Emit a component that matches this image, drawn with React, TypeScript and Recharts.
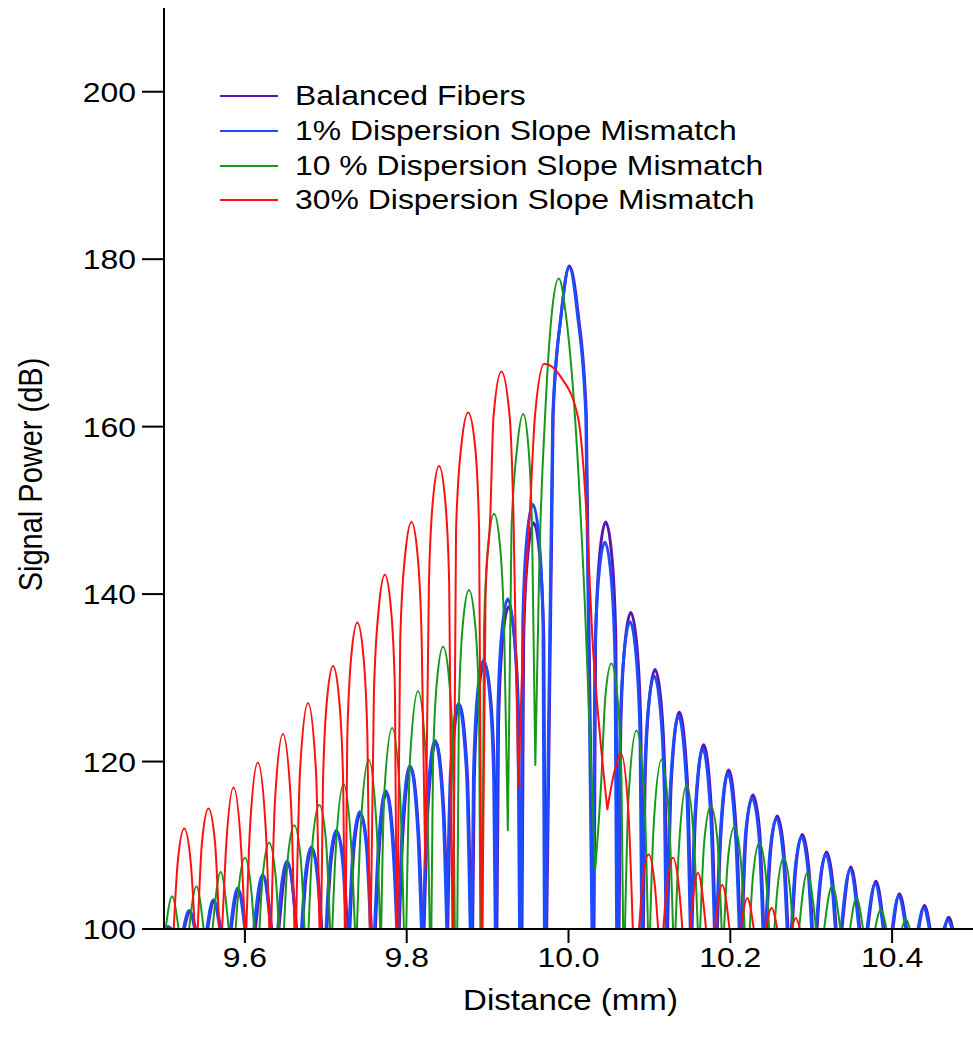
import { Label, Legend, Line, LineChart, XAxis, YAxis } from "recharts";

const FONT = '"Liberation Sans", Arial, Helvetica, sans-serif';
const STRETCH = 1.14; // text in this figure is set slightly wide
const A = 100; // a lobe foot sitting on the bottom of the dB axis

const xTicks = [9.6, 9.8, 10.0, 10.2, 10.4];
const yTicks = [100, 120, 140, 160, 180, 200];

// Each lobe is a short run of [distance mm, power dB] points: left foot, flank, top, flank, right foot.
// Feet above 100 dB are the shallow dips where two neighbouring lobes join.
const balancedLobes = [
  [[9.503, A], [9.506, 100.2], [9.509, A]],
  [[9.525, A], [9.532, 102.0], [9.539, A]],
  [[9.554, A], [9.562, 103.3], [9.570, A]],
  [[9.583, A], [9.592, 104.7], [9.601, A]],
  [[9.613, A], [9.623, 106.3], [9.633, A]],
  [[9.642, A], [9.653, 107.9], [9.664, A]],
  [[9.671, A], [9.675, 105.6], [9.683, 109.6], [9.691, 105.6], [9.695, A]],
  [[9.7013, A], [9.706, 107.6], [9.714, 111.6], [9.722, 107.6], [9.7267, A]],
  [[9.7297, A], [9.735, 109.8], [9.743, 113.8], [9.751, 109.8], [9.7563, A]],
  [[9.7613, A], [9.7652, 108.3], [9.775, 116.3], [9.7848, 108.3], [9.7887, A]],
  [[9.7908, A], [9.7952, 111.3], [9.805, 119.3], [9.8148, 111.3], [9.8192, A]],
  [[9.8215, A], [9.8262, 114.3], [9.836, 122.3], [9.8458, 114.3], [9.8505, A]],
  [[9.8507, A], [9.8552, 118.8], [9.865, 126.8], [9.8748, 118.8], [9.8795, A]],
  [[9.8815, A], [9.8835, 117.8], [9.8885, 127.8], [9.896, 131.8], [9.9035, 127.8], [9.9085, 117.8], [9.9105, A]],
  [[9.9115, A], [9.9135, 124.5], [9.9185, 134.5], [9.926, 138.5], [9.9335, 134.5], [9.9385, 124.5], [9.9405, A]],
  [[9.9425, A], [9.9445, 134.5], [9.9495, 144.5], [9.957, 148.5], [9.9645, 144.5], [9.9695, 134.5], [9.9712, A]],
  [[9.973, A], [9.981, 161.4], [9.991, 173.4], [10.001, 179.2], [10.012, 173.4], [10.022, 161.4], [10.030, A]],
  [[10.0315, A], [10.0335, 134.6], [10.0385, 144.6], [10.046, 148.6], [10.0535, 144.6], [10.0585, 134.6], [10.0605, A]],
  [[10.0625, A], [10.0645, 123.8], [10.0695, 133.8], [10.077, 137.8], [10.0845, 133.8], [10.0895, 123.8], [10.0915, A]],
  [[10.0925, A], [10.0945, 117.0], [10.0995, 127.0], [10.107, 131.0], [10.1145, 127.0], [10.1195, 117.0], [10.1215, A]],
  [[10.1225, A], [10.1272, 117.9], [10.137, 125.9], [10.1468, 117.9], [10.1515, A]],
  [[10.1527, A], [10.1572, 114.0], [10.167, 122.0], [10.1768, 114.0], [10.1813, A]],
  [[10.184, A], [10.1882, 111.0], [10.198, 119.0], [10.2078, 111.0], [10.212, A]],
  [[10.2147, A], [10.220, 112.0], [10.228, 116.0], [10.236, 112.0], [10.2413, A]],
  [[10.2448, A], [10.250, 109.5], [10.258, 113.5], [10.266, 109.5], [10.2712, A]],
  [[10.2765, A], [10.281, 107.3], [10.289, 111.3], [10.297, 107.3], [10.3015, A]],
  [[10.3072, A], [10.311, 105.2], [10.319, 109.2], [10.327, 105.2], [10.3308, A]],
  [[10.338, A], [10.349, 107.4], [10.360, A]],
  [[10.370, A], [10.380, 105.7], [10.390, A]],
  [[10.401, A], [10.409, 104.2], [10.418, A]],
  [[10.433, A], [10.440, 102.8], [10.447, A]],
  [[10.465, A], [10.470, 101.4], [10.475, A]],
];

const slope1Lobes = [
  [[9.502, A], [9.505, 100.3], [9.508, A]],
  [[9.524, A], [9.531, 102.2], [9.538, A]],
  [[9.553, A], [9.561, 103.5], [9.569, A]],
  [[9.582, A], [9.591, 104.9], [9.600, A]],
  [[9.611, A], [9.622, 106.5], [9.632, A]],
  [[9.6407, A], [9.644, 104.1], [9.652, 108.1], [9.660, 104.1], [9.6633, A]],
  [[9.670, A], [9.674, 105.8], [9.682, 109.8], [9.690, 105.8], [9.694, A]],
  [[9.7003, A], [9.705, 107.8], [9.713, 111.8], [9.721, 107.8], [9.7257, A]],
  [[9.7287, A], [9.734, 110.0], [9.742, 114.0], [9.750, 110.0], [9.7553, A]],
  [[9.7603, A], [9.7642, 108.5], [9.774, 116.5], [9.7838, 108.5], [9.7877, A]],
  [[9.7898, A], [9.7942, 111.5], [9.804, 119.5], [9.8138, 111.5], [9.8182, A]],
  [[9.8205, A], [9.8252, 114.5], [9.835, 122.5], [9.8448, 114.5], [9.8495, A]],
  [[9.8497, A], [9.8542, 118.9], [9.864, 126.9], [9.8738, 118.9], [9.8785, A]],
  [[9.8805, A], [9.8825, 118.1], [9.8875, 128.1], [9.895, 132.1], [9.9025, 128.1], [9.9075, 118.1], [9.9095, A]],
  [[9.9105, A], [9.9125, 125.4], [9.9175, 135.4], [9.925, 139.4], [9.9325, 135.4], [9.9375, 125.4], [9.9395, A]],
  [[9.9415, A], [9.9435, 136.7], [9.9485, 146.7], [9.956, 150.7], [9.9635, 146.7], [9.9685, 136.7], [9.9702, A]],
  [[9.972, A], [9.9805, 161.2], [9.9907, 173.2], [10.001, 179.0], [10.0113, 173.2], [10.0215, 161.2], [10.029, A]],
  [[10.0305, A], [10.0325, 132.2], [10.0375, 142.2], [10.045, 146.2], [10.0525, 142.2], [10.0575, 132.2], [10.0595, A]],
  [[10.0615, A], [10.0635, 122.7], [10.0685, 132.7], [10.076, 136.7], [10.0835, 132.7], [10.0885, 122.7], [10.0905, A]],
  [[10.0915, A], [10.0935, 116.2], [10.0985, 126.2], [10.106, 130.2], [10.1135, 126.2], [10.1185, 116.2], [10.1205, A]],
  [[10.1215, A], [10.1262, 117.4], [10.136, 125.4], [10.1458, 117.4], [10.1505, A]],
  [[10.1517, A], [10.1562, 113.5], [10.166, 121.5], [10.1758, 113.5], [10.1803, A]],
  [[10.183, A], [10.1872, 110.6], [10.197, 118.6], [10.2068, 110.6], [10.211, A]],
  [[10.2137, A], [10.219, 111.6], [10.227, 115.6], [10.235, 111.6], [10.2403, A]],
  [[10.2438, A], [10.249, 109.2], [10.257, 113.2], [10.265, 109.2], [10.2702, A]],
  [[10.2755, A], [10.280, 107.0], [10.288, 111.0], [10.296, 107.0], [10.3005, A]],
  [[10.3062, A], [10.310, 104.9], [10.318, 108.9], [10.326, 104.9], [10.3298, A]],
  [[10.337, A], [10.348, 107.1], [10.359, A]],
  [[10.369, A], [10.379, 105.4], [10.389, A]],
  [[10.400, A], [10.408, 103.9], [10.417, A]],
  [[10.432, A], [10.439, 102.5], [10.446, A]],
  [[10.464, A], [10.469, 101.1], [10.474, A]],
];

const slope10Lobes = [
  [[9.502, A], [9.510, 103.9], [9.518, A]],
  [[9.531, A], [9.540, 105.1], [9.549, A]],
  [[9.560, A], [9.570, 106.8], [9.580, A]],
  [[9.5885, A], [9.592, 104.5], [9.600, 108.5], [9.608, 104.5], [9.6115, A]],
  [[9.618, A], [9.622, 106.3], [9.630, 110.3], [9.638, 106.3], [9.642, A]],
  [[9.6483, A], [9.653, 108.4], [9.661, 112.4], [9.669, 108.4], [9.6737, A]],
  [[9.6787, A], [9.684, 110.8], [9.692, 114.8], [9.700, 110.8], [9.7053, A]],
  [[9.708, A], [9.7122, 109.3], [9.722, 117.3], [9.7318, 109.3], [9.736, A]],
  [[9.7385, A], [9.7432, 112.2], [9.753, 120.2], [9.7628, 112.2], [9.7672, A]],
  [[9.7685, A], [9.7722, 116.0], [9.782, 124.0], [9.7918, 116.0], [9.7965, A]],
  [[9.7995, A], [9.8042, 120.4], [9.814, 128.4], [9.8238, 120.4], [9.8285, A]],
  [[9.8305, A], [9.8325, 119.7], [9.8375, 129.7], [9.845, 133.7], [9.8525, 129.7], [9.8575, 119.7], [9.8595, A]],
  [[9.8625, A], [9.8645, 126.5], [9.8695, 136.5], [9.877, 140.5], [9.8845, 136.5], [9.8895, 126.5], [9.891, A]],
  [[9.8935, A], [9.8955, 135.6], [9.9005, 145.6], [9.908, 149.6], [9.9155, 145.6], [9.9205, 135.6], [9.925, 111.8]],
  [[9.925, 111.8], [9.9295, 147.5], [9.9365, 157.5], [9.944, 161.5], [9.9505, 157.5], [9.955, 147.5], [9.959, 119.6]],
  [[9.959, 119.6], [9.964, 144.1], [9.971, 161.2], [9.979, 173.2], [9.988, 177.7], [9.997, 173.2], [10.008, 161.2], [10.020, 139.3], [10.033, 107.1]],
  [[10.033, 107.1], [10.0405, 117.7], [10.0455, 127.7], [10.053, 131.7], [10.0605, 127.7], [10.0655, 117.7], [10.0675, A]],
  [[10.0698, A], [10.0742, 115.7], [10.084, 123.7], [10.0938, 115.7], [10.0982, A]],
  [[10.1008, A], [10.1052, 112.2], [10.115, 120.2], [10.1248, 112.2], [10.1292, A]],
  [[10.1322, A], [10.1362, 109.2], [10.146, 117.2], [10.1558, 109.2], [10.1598, A]],
  [[10.1627, A], [10.168, 110.7], [10.176, 114.7], [10.184, 110.7], [10.1893, A]],
  [[10.1923, A], [10.197, 108.2], [10.205, 112.2], [10.213, 108.2], [10.2177, A]],
  [[10.224, A], [10.228, 106.3], [10.236, 110.3], [10.244, 106.3], [10.248, A]],
  [[10.2545, A], [10.258, 104.5], [10.266, 108.5], [10.274, 104.5], [10.2775, A]],
  [[10.285, A], [10.295, 106.7], [10.306, A]],
  [[10.316, A], [10.326, 105.2], [10.336, A]],
  [[10.348, A], [10.356, 103.7], [10.364, A]],
  [[10.379, A], [10.386, 102.3], [10.393, A]],
  [[10.412, A], [10.417, 101.2], [10.422, A]],
];

// the broad 30% lobe sags on its right flank before the dip at 10.048 mm
const slope30Lobes = [
  [[9.512, A], [9.517, 108.0], [9.525, 112.0], [9.533, 108.0], [9.538, A]],
  [[9.5417, A], [9.547, 110.4], [9.555, 114.4], [9.563, 110.4], [9.5683, A]],
  [[9.5718, A], [9.5762, 108.9], [9.586, 116.9], [9.5958, 108.9], [9.6002, A]],
  [[9.6018, A], [9.6062, 111.9], [9.616, 119.9], [9.6258, 111.9], [9.6302, A]],
  [[9.6325, A], [9.6372, 115.3], [9.647, 123.3], [9.6568, 115.3], [9.6612, A]],
  [[9.6632, A], [9.6682, 119.0], [9.678, 127.0], [9.6878, 119.0], [9.6922, A]],
  [[9.6942, A], [9.6965, 117.4], [9.7015, 127.4], [9.709, 131.4], [9.7165, 127.4], [9.7215, 117.4], [9.7235, A]],
  [[9.7245, A], [9.7265, 122.6], [9.7315, 132.6], [9.739, 136.6], [9.7465, 132.6], [9.7515, 122.6], [9.7543, A]],
  [[9.7555, A], [9.7595, 128.3], [9.7655, 138.3], [9.773, 142.3], [9.7805, 138.3], [9.7855, 128.3], [9.7875, A]],
  [[9.7885, A], [9.792, 134.6], [9.798, 144.6], [9.806, 148.6], [9.8135, 144.6], [9.8185, 134.6], [9.823, 107.3]],
  [[9.823, 107.3], [9.8275, 141.3], [9.8325, 151.3], [9.840, 155.3], [9.8475, 151.3], [9.8525, 141.3], [9.8565, A]],
  [[9.8575, A], [9.861, 147.7], [9.8675, 157.7], [9.876, 161.7], [9.8845, 157.7], [9.8895, 147.7], [9.8925, A]],
  [[9.8935, A], [9.8975, 140.0], [9.9033, 149.3], [9.9073, 161.2], [9.917, 166.6], [9.9273, 161.2], [9.932, 149.3], [9.938, 117.0]],
  [[9.938, 117.0], [9.945, 138.0], [9.952, 149.3], [9.9585, 161.2], [9.970, 167.5], [9.990, 166.0], [10.012, 161.0], [10.022, 150.0], [10.030, 134.0], [10.039, 123.0], [10.048, 114.3]],
  [[10.048, 114.3], [10.057, 118.9], [10.065, 120.9], [10.074, 114.0], [10.0795, A]],
  [[10.0872, A], [10.091, 104.9], [10.099, 108.9], [10.107, 104.9], [10.1108, A]],
  [[10.1172, A], [10.121, 104.5], [10.129, 108.5], [10.137, 104.5], [10.1408, A]],
  [[10.150, A], [10.160, 106.7], [10.170, A]],
  [[10.181, A], [10.190, 105.3], [10.199, A]],
  [[10.213, A], [10.221, 103.7], [10.229, A]],
  [[10.244, A], [10.251, 102.5], [10.258, A]],
  [[10.276, A], [10.281, 101.3], [10.286, A]],
];

// lobes become separate runs of one line: a null value breaks the path between them
function trace(lobes: number[][][]) {
  const pts: { x: number; y: number | null }[] = [];
  lobes.forEach((lobe) => {
    lobe.forEach(([x, y]) => pts.push({ x, y }));
    pts.push({ x: lobe[lobe.length - 1][0], y: null });
  });
  return pts;
}

const series = [
  { name: "Balanced Fibers", color: "#5b14b4", width: 3, data: trace(balancedLobes) },
  { name: "1% Dispersion Slope Mismatch", color: "#1d4cff", width: 3, data: trace(slope1Lobes) },
  { name: "10 % Dispersion Slope Mismatch", color: "#17981b", width: 2, data: trace(slope10Lobes) },
  { name: "30% Dispersion Slope Mismatch", color: "#ff0f0f", width: 2, data: trace(slope30Lobes) },
];

const textStyle = { fontFamily: FONT, fontSize: 28, fill: "#000" };
const titleStyle = { ...textStyle, fontSize: 29 };

function XTick({ x, y, payload }: any) {
  return (
    <text transform={`translate(${x},${y}) scale(${STRETCH},1)`} textAnchor="middle" dy="0.72em" style={textStyle}>
      {Number(payload.value).toFixed(1)}
    </text>
  );
}

function YTick({ x, y, payload }: any) {
  return (
    <text transform={`translate(${x},${y}) scale(${STRETCH},1)`} textAnchor="end" dy="0.36em" style={textStyle}>
      {payload.value}
    </text>
  );
}

function XTitle({ viewBox }: any) {
  const cx = viewBox.x + viewBox.width / 2;
  return (
    <text transform={`translate(${cx + 2},${viewBox.y + 71}) scale(${STRETCH},1)`} textAnchor="middle" dy="0.36em" style={titleStyle}>
      Distance (mm)
    </text>
  );
}

function YTitle({ viewBox }: any) {
  const cy = viewBox.y + viewBox.height / 2;
  return (
    <text transform={`translate(30,${cy + 6}) rotate(-90) scale(1,${STRETCH})`} textAnchor="middle" dy="0.36em" style={titleStyle}>
      Signal Power (dB)
    </text>
  );
}

function LegendBox() {
  return (
    <div style={{ fontFamily: FONT, fontSize: 28, color: "#000", lineHeight: 1 }}>
      {series.map((s) => (
        <div key={s.name} style={{ display: "flex", alignItems: "center", height: 34.7 }}>
          <span style={{ display: "inline-block", width: 58, height: 2, background: s.color, marginRight: 17 }} />
          <span style={{ display: "inline-block", whiteSpace: "nowrap", transform: `scaleX(${STRETCH})`, transformOrigin: "left center" }}>
            {s.name}
          </span>
        </div>
      ))}
    </div>
  );
}

export default function App() {
  return (
    <div style={{ position: "absolute", left: 0, top: 0, width: 973, height: 1047, background: "#fff" }}>
      <LineChart width={973} height={1047} margin={{ top: 8, right: 0, bottom: 0, left: 0 }}>
        <XAxis
          dataKey="x"
          type="number"
          domain={[9.5, 10.5]}
          allowDataOverflow
          ticks={xTicks}
          height={118}
          tick={<XTick />}
          tickSize={14}
          tickMargin={4}
          axisLine={{ stroke: "#000", strokeWidth: 2 }}
          tickLine={{ stroke: "#000", strokeWidth: 2 }}
        >
          <Label content={<XTitle />} />
        </XAxis>
        <YAxis
          type="number"
          domain={[100, 210]}
          allowDataOverflow
          ticks={yTicks}
          width={164}
          tick={<YTick />}
          tickSize={22}
          tickMargin={6}
          axisLine={{ stroke: "#000", strokeWidth: 2 }}
          tickLine={{ stroke: "#000", strokeWidth: 2 }}
        >
          <Label content={<YTitle />} />
        </YAxis>
        <Legend
          layout="vertical"
          align="center"
          verticalAlign="middle"
          content={<LegendBox />}
          wrapperStyle={{ left: 220, top: 79, width: 620, height: 140 }}
        />
        {series.map((s) => (
          <Line
            key={s.name}
            data={s.data}
            dataKey="y"
            name={s.name}
            type="monotone"
            stroke={s.color}
            strokeWidth={s.width}
            strokeLinejoin="round"
            strokeLinecap="round"
            dot={false}
            activeDot={false}
            isAnimationActive={false}
          />
        ))}
      </LineChart>
    </div>
  );
}
